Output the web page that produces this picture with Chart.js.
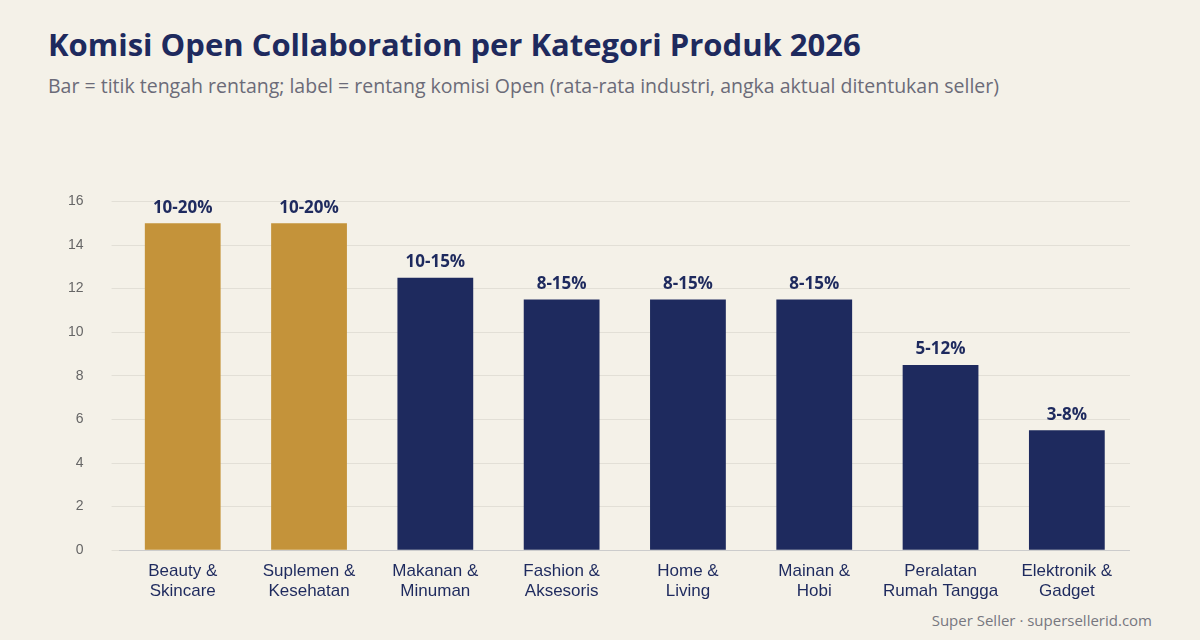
<!DOCTYPE html>
<html><head><meta charset="utf-8">
<script src="https://cdn.jsdelivr.net/npm/chart.js@4"></script>
<style>
body{margin:0;background:#f4f1e8;width:1200px;height:640px;overflow:hidden;font-family:"Open Sans",sans-serif;position:relative}
#t{position:absolute;left:48px;top:23px;font-size:31px;font-weight:700;color:#1e2a5e;font-family:"Open Sans";white-space:nowrap}
#s{position:absolute;left:48px;top:72px;font-size:19.5px;color:#6b6b78;white-space:nowrap}
#f{position:absolute;right:48px;top:610px;font-size:15px;color:#77777f}
#w{position:absolute;left:40px;top:165px;width:1090px;height:440px}
</style></head><body>
<div id="t">Komisi Open Collaboration per Kategori Produk 2026</div>
<div id="s">Bar = titik tengah rentang; label = rentang komisi Open (rata-rata industri, angka aktual ditentukan seller)</div>
<div id="w"><canvas id="c"></canvas></div>
<div id="f">Super Seller · supersellerid.com</div>
<script>
const categories=[["Beauty &","Skincare"],["Suplemen &","Kesehatan"],["Makanan &","Minuman"],["Fashion &","Aksesoris"],["Home &","Living"],["Mainan &","Hobi"],["Peralatan","Rumah Tangga"],["Elektronik &","Gadget"]];
const midpoints=[15,15,12.5,11.5,11.5,11.5,8.5,5.5];
const rangeLabels=["10-20%","10-20%","10-15%","8-15%","8-15%","8-15%","5-12%","3-8%"];
const highlighted=[true,true,false,false,false,false,false,false];
const labelPlugin={id:'lbl',afterDatasetsDraw(ch){const ctx=ch.ctx;const m=ch.getDatasetMeta(0);ctx.save();ctx.font='bold 17px "Open Sans"';ctx.fillStyle='#1e2a5e';ctx.textAlign='center';ctx.textBaseline='bottom';m.data.forEach((b,i)=>ctx.fillText(rangeLabels[i],b.x,b.y-7));ctx.restore();}};
new Chart(document.getElementById('c'),{type:'bar',data:{labels:categories,datasets:[{data:midpoints,backgroundColor:highlighted.map(h=>h?'#c4933a':'#1e2a5e'),barPercentage:0.6,categoryPercentage:1}]},
options:{responsive:true,maintainAspectRatio:false,animation:false,layout:{padding:{top:15,right:0}},plugins:{legend:{display:false},tooltip:{enabled:false}},
scales:{y:{min:0,max:16,ticks:{stepSize:2,color:'#666',font:{size:14},padding:28},grid:{color:'#e2dfd6'},border:{display:false}},
x:{ticks:{color:'#1e2a5e',font:{size:17}},grid:{display:false},border:{color:'#ccc'}}}},plugins:[labelPlugin]});
</script></body></html>
